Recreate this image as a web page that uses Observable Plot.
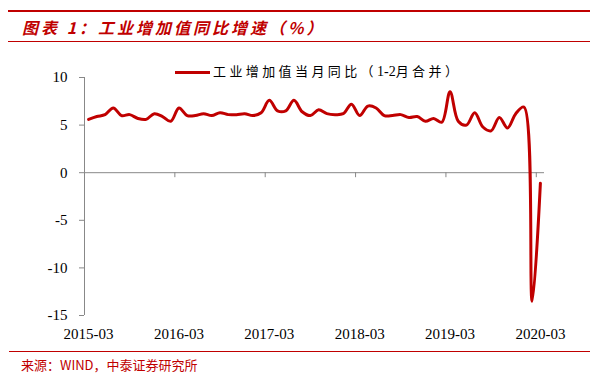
<!DOCTYPE html>
<html><head><meta charset="utf-8">
<script src="https://cdn.jsdelivr.net/npm/d3@7"></script>
<script src="https://cdn.jsdelivr.net/npm/@observablehq/plot@0.6"></script>
<style>
body{margin:0;width:609px;height:381px;position:relative;background:#fff;overflow:hidden}
.abs{position:absolute}
#title{left:22px;top:16px;font:italic bold 16px "Noto Sans CJK SC";color:#C00000;letter-spacing:3px;line-height:22px;white-space:nowrap}
#legtext{left:213px;top:62px;font:13px "Liberation Serif","Noto Sans CJK SC";color:#000;letter-spacing:3.4px;line-height:20px;white-space:nowrap}
#legtext span{letter-spacing:0;font-size:14px}
#src{left:21px;top:356px;font:13px "Noto Sans CJK SC";color:#C00000;line-height:18px;white-space:nowrap}
</style></head><body>
<div class="abs" style="left:8px;top:10px;width:582px;height:2px;background:#C00000"></div>
<div id="title" class="abs">图表 1：工业增加值同比增速（%）</div>
<div class="abs" style="left:8px;top:41px;width:582px;height:1px;background:#C00000"></div>
<div id="chart" class="abs" style="left:0;top:44px"></div>
<div class="abs" style="left:175px;top:71px;width:35px;height:3px;background:#C00000"></div>
<div id="legtext" class="abs">工业增加值当月同比（<span>1-2</span>月合并）</div>
<div class="abs" style="left:9px;top:351px;width:581px;height:1px;background:#C00000"></div>
<div id="src" class="abs">来源：WIND，中泰证券研究所</div>
<script>
const months = ["2015-03","2015-04","2015-05","2015-06","2015-07","2015-08","2015-09","2015-10","2015-11","2015-12",
"2016-02","2016-03","2016-04","2016-05","2016-06","2016-07","2016-08","2016-09","2016-10","2016-11","2016-12",
"2017-02","2017-03","2017-04","2017-05","2017-06","2017-07","2017-08","2017-09","2017-10","2017-11","2017-12",
"2018-02","2018-03","2018-04","2018-05","2018-06","2018-07","2018-08","2018-09","2018-10","2018-11","2018-12",
"2019-02","2019-03","2019-04","2019-05","2019-06","2019-07","2019-08","2019-09","2019-10","2019-11","2019-12",
"2020-02","2020-03"];
const values = [5.6,5.9,6.1,6.8,6.0,6.1,5.7,5.6,6.2,5.9,
5.4,6.8,6.0,6.0,6.2,6.0,6.3,6.1,6.1,6.2,6.0,
6.3,7.6,6.5,6.5,7.6,6.4,6.0,6.6,6.2,6.1,6.2,
7.2,6.0,7.0,6.8,6.0,6.0,6.1,5.8,5.9,5.4,5.7,
5.3,8.5,5.4,5.0,6.3,4.8,4.4,5.8,4.7,6.2,6.9,
-13.5,-1.1];
const xTickLabels = ["2015-03","2016-03","2017-03","2018-03","2019-03","2020-03"];
const yTicks = [-15,-10,-5,0,5,10];

const tickIdx = xTickLabels.map(l => months.indexOf(l));
const data = values.map((v, i) => ({i: i + 0.5, v}));

const chart = Plot.plot({
  width: 609, height: 306,
  marginTop: 33, marginBottom: 35, marginLeft: 84, marginRight: 65,
  x: {domain: [0, months.length]},
  y: {domain: [-15, 10]},
  style: {fontFamily: "Liberation Serif", fontSize: "15px", color: "#000", background: "transparent"},
  marks: [
    Plot.ruleX([0], {stroke: "#888"}),
    Plot.axisY({ticks: yTicks, tickSize: 5, tickPadding: 12, stroke: "#888", fill: "#000", tickFormat: d => String(d), label: null}),
    Plot.ruleY([0], {stroke: "#888"}),
    Plot.ruleX(tickIdx, {x: d => d, y1: 0, y2: 0, insetBottom: -5, stroke: "#888"}),
    Plot.axisX({ticks: tickIdx.map(i => i + 0.5), tickSize: 0, tickPadding: 13, fill: "#000", tickFormat: d => months[Math.floor(d)], label: null}),
    Plot.line(data, {x: "i", y: "v", curve: "catmull-rom", stroke: "#C00000", strokeWidth: 3})
  ]
});
document.getElementById("chart").appendChild(chart);
</script>
</body></html>
